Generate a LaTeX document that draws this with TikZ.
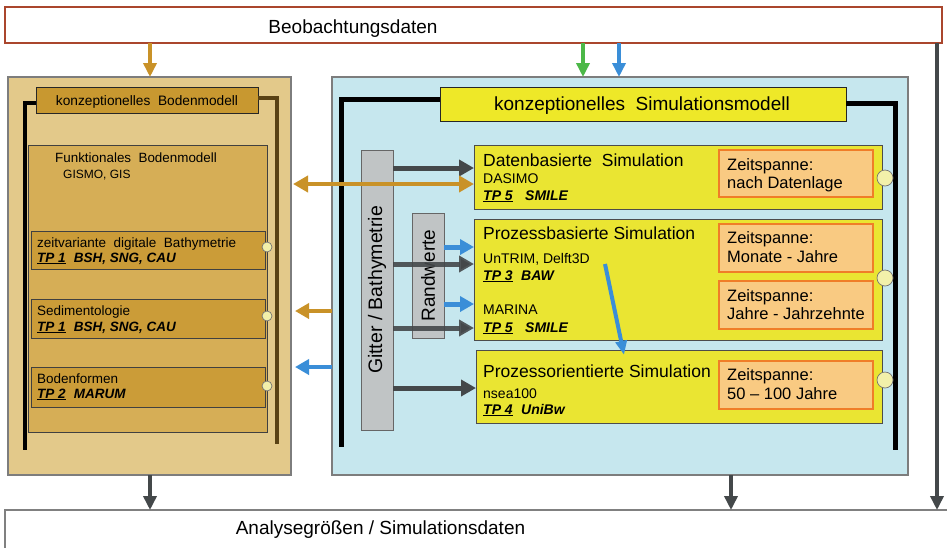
\documentclass[tikz,border=0pt]{standalone}
\usepackage{fontspec}
\setmainfont{Liberation Sans}
\usetikzlibrary{arrows.meta}
\definecolor{goldA}{RGB}{201,146,40}
\definecolor{tanbg}{RGB}{227,201,138}
\definecolor{goldhead}{RGB}{200,152,48}
\definecolor{goldfunc}{RGB}{214,174,86}
\definecolor{goldsub}{RGB}{203,156,56}
\definecolor{brownline}{RGB}{90,66,20}
\definecolor{bluebg}{RGB}{198,231,238}
\definecolor{yel}{RGB}{234,229,50}
\definecolor{yelhead}{RGB}{238,232,40}
\definecolor{zeitfill}{RGB}{249,202,130}
\definecolor{zeitline}{RGB}{240,125,40}
\definecolor{circfill}{RGB}{242,240,170}
\definecolor{grayfill}{RGB}{192,196,197}
\definecolor{darkarrow}{RGB}{68,72,74}
\definecolor{greenA}{RGB}{76,184,72}
\definecolor{blueA}{RGB}{58,142,216}
\definecolor{topline}{RGB}{170,70,45}
\newcommand\fsBig{\fontsize{19}{22}\selectfont}
\newcommand\fsTitle{\fontsize{17.5}{20}\selectfont}
\newcommand\fsSmall{\fontsize{14}{16}\selectfont}
\newcommand\fsZeit{\fontsize{16.5}{19}\selectfont}
\newcommand\fsLeft{\fontsize{13.5}{16}\selectfont}
\newcommand\fsTiny{\fontsize{12}{14}\selectfont}
\newcommand\tpl[2]{\underline{\textbf{\textit{#1}}}\hspace{0.6em}\textbf{\textit{#2}}}
\tikzset{
  rect/.style={rectangle, inner sep=0pt, outer sep=0pt},
  pan/.style={rect, draw={rgb,255:red,125;green,125;blue,125}, line width=1.2pt},
  lhd/.style={rect, fill=goldhead, draw=black!85, line width=0.8pt},
  funcb/.style={rect, fill=goldfunc, draw=black!75, line width=0.7pt},
  subb/.style={rect, fill=goldsub, draw=black!75, line width=0.8pt},
  simb/.style={rect, fill=yel, draw=black!70, line width=1pt},
  rhd/.style={rect, fill=yelhead, draw=black!85, line width=0.9pt},
  zeitb/.style={rect, fill=zeitfill, draw=zeitline, line width=1.2pt},
  gbox/.style={rect, fill=grayfill, draw=black!60, line width=0.9pt},
  circ/.style={circle, fill=circfill, draw=black!55, line width=0.7pt, inner sep=0pt},
  txt/.style={inner sep=0pt, anchor=base west},
  ctxt/.style={inner sep=0pt, anchor=base},
  darr/.style={draw=darkarrow, line width=5pt, -{Triangle[length=15pt,width=16pt]}},
  varr/.style={line width=4pt, -{Triangle[length=14pt,width=13pt]}},
  barr/.style={draw=blueA, line width=5pt, -{Triangle[length=14pt,width=15pt]}},
}
\begin{document}
\begin{tikzpicture}[x=1pt,y=-1pt]
\useasboundingbox (0,0) rectangle (947,547);
\fill[white] (0,0) rectangle (947,547);
% top and bottom boxes
\node[rect, draw=topline, line width=1.5pt, fill=white, minimum width=937pt, minimum height=36pt] (topbox) at (473.5,25) {};
\node[ctxt] (toptxt) at (353,33) {\fontsize{19}{22}\selectfont Beobachtungsdaten};
\node[rect, draw={rgb,255:red,128;green,128;blue,128}, line width=1.2pt, fill=white, minimum width=947pt, minimum height=42pt] (botbox) at (478.5,531) {};
\node[ctxt] (bottxt) at (380.5,534) {\fontsize{19}{22}\selectfont Analysegrößen / Simulationsdaten};
% coordinates for vertical connectors
\coordinate (cg) at (150,0);
\coordinate (cgr) at (583,0);
\coordinate (cbl) at (619,0);
\coordinate (cr) at (731,0);
\coordinate (cgl) at (937,0);
% panels
\node[pan, fill=tanbg, minimum width=283pt, minimum height=398pt] (lpanel) at (149.5,276) {};
\node[pan, fill=bluebg, minimum width=576pt, minimum height=398pt] (rpanel) at (620,276) {};
% left panel content
\node[funcb, minimum width=239pt, minimum height=287pt] (funcbox) at (147.5,288.5) {};
\node[lhd, minimum width=222pt, minimum height=26pt] (lhead) at (147,100) {};
\draw[black, line width=4pt] ([yshift=-3pt]lhead.west) -| (25,450);
\draw[brownline, line width=4pt] ([yshift=2pt]lhead.east) -| (277,444);
\node[ctxt] (lheadtxt) at (147,105) {\fontsize{13.7}{16}\selectfont konzeptionelles\ \ Bodenmodell};
\node[txt] (functxt) at (55,162) {\fontsize{13.4}{16}\selectfont Funktionales\ \ Bodenmodell};
\node[txt] (gismo) at (63,178) {\fsTiny GISMO, GIS};
\node[subb, minimum width=234pt, minimum height=38pt] (sub1) at (148,250) {};
\node[subb, minimum width=234pt, minimum height=39pt] (sub2) at (148,318.5) {};
\node[subb, minimum width=234pt, minimum height=40pt] (sub3) at (148,387) {};
\node[txt] (s1a) at (37,247) {\fsLeft zeitvariante\ \ digitale\ \ Bathymetrie};
\node[txt] (s1b) at (37,262) {\fsLeft\tpl{TP 1}{BSH, SNG, CAU}};
\node[txt] (s2a) at (37,315) {\fsLeft Sedimentologie};
\node[txt] (s2b) at (37,331) {\fsLeft\tpl{TP 1}{BSH, SNG, CAU}};
\node[txt] (s3a) at (37,383) {\fsLeft Bodenformen};
\node[txt] (s3b) at (37,398) {\fsLeft\tpl{TP 2}{MARUM}};
\node[circ, minimum size=10pt] (lc1) at (267,247) {};
\node[circ, minimum size=10pt] (lc2) at (267,316) {};
\node[circ, minimum size=10pt] (lc3) at (267,386) {};
% right panel content
\node[rhd, minimum width=406pt, minimum height=34pt] (rhead) at (643,104) {};
\draw[black, line width=5pt] ([yshift=5pt]rhead.west) -| (341,447);
\draw[black, line width=5pt] ([yshift=1pt]rhead.east) -| (895,450);
\node[ctxt] (rheadtxt) at (642,110) {\fsBig konzeptionelles\ \ Simulationsmodell};
\node[gbox, minimum width=32pt, minimum height=280pt] (gitter) at (377,290) {};
\node[rotate=90, inner sep=0pt] (gittertxt) at (377,290) {\fontsize{19.5}{22}\selectfont Gitter / Bathymetrie};
\node[gbox, minimum width=32pt, minimum height=125pt] (rand) at (428,275.5) {};
\node[rotate=90, inner sep=0pt] (randtxt) at (428,275.5) {\fontsize{19}{22}\selectfont Randwerte};
\node[simb, minimum width=408pt, minimum height=64pt] (dbox) at (678,177) {};
\node[simb, minimum width=408pt, minimum height=121pt] (pbox) at (678,279.5) {};
\node[simb, minimum width=406pt, minimum height=73pt] (obox) at (679,386.5) {};
\node[zeitb, minimum width=154pt, minimum height=47pt] (z1) at (796,173.5) {};
\node[zeitb, minimum width=154pt, minimum height=48pt] (z2) at (796,248) {};
\node[zeitb, minimum width=154pt, minimum height=48pt] (z3) at (796,305) {};
\node[zeitb, minimum width=154pt, minimum height=48pt] (z4) at (796,385) {};
\node[circ, minimum size=16pt] (rc1) at (885,178) {};
\node[circ, minimum size=16pt] (rc2) at (885,278) {};
\node[circ, minimum size=16pt] (rc3) at (885,380) {};
% right texts
\node[txt] (d1) at (483,166) {\fsTitle Datenbasierte\ \ Simulation};
\node[txt] (d2) at (483,183) {\fsSmall DASIMO};
\node[txt] (d3) at (483,200) {\fsSmall\tpl{TP 5}{\ SMILE}};
\node[txt] (p1) at (483,239) {\fsTitle Prozessbasierte Simulation};
\node[txt] (p2) at (483,263) {\fsSmall UnTRIM, Delft3D};
\node[txt] (p3) at (483,280) {\fsSmall\tpl{TP 3}{BAW}};
\node[txt] (p4) at (483,314) {\fsSmall MARINA};
\node[txt] (p5) at (483,332) {\fsSmall\tpl{TP 5}{\ SMILE}};
\node[txt] (o1) at (483,377) {\fsTitle Prozessorientierte Simulation};
\node[txt] (o2) at (483,398) {\fsSmall nsea100};
\node[txt] (o3) at (483,414) {\fsSmall\tpl{TP 4}{UniBw}};
\node[txt] (z1a) at (727,170) {\fsZeit Zeitspanne:};
\node[txt] (z1b) at (727,188) {\fsZeit nach Datenlage};
\node[txt] (z2a) at (727,243) {\fsZeit Zeitspanne:};
\node[txt] (z2b) at (727,262) {\fsZeit Monate - Jahre};
\node[txt] (z3a) at (727,301) {\fsZeit Zeitspanne:};
\node[txt] (z3b) at (727,319) {\fsZeit Jahre - Jahrzehnte};
\node[txt] (z4a) at (727,380) {\fsZeit Zeitspanne:};
\node[txt] (z4b) at (727,399) {\fsZeit 50 -- 100 Jahre};
% horizontal arrows inside right panel
\coordinate (y168) at (0,168);
\coordinate (y184) at (0,184);
\coordinate (y247) at (0,247);
\coordinate (y264) at (0,264);
\coordinate (y304) at (0,304);
\coordinate (y311) at (0,311);
\coordinate (y328) at (0,328);
\coordinate (y367) at (0,367);
\coordinate (y388) at (0,388);
\draw[darr] (gitter.east |- y168) -- (dbox.west |- y168);
\draw[darr, draw opacity=0.9] (gitter.east |- y264) -- (pbox.west |- y264);
\draw[darr, draw opacity=0.9] (gitter.east |- y328) -- (pbox.west |- y328);
\draw[darr] (gitter.east |- y388) -- (obox.west |- y388);
\draw[barr] (rand.east |- y247) -- (pbox.west |- y247);
\draw[barr] (rand.east |- y304) -- (pbox.west |- y304);
\draw[draw=goldA, line width=4.5pt, {Triangle[length=15pt,width=16pt]}-{Triangle[length=15pt,width=16pt]}] ([xshift=2pt]lpanel.east |- y184) -- (dbox.west |- y184);
\draw[draw=goldA, line width=4.5pt, -{Triangle[length=14pt,width=15pt]}] (rpanel.west |- y311) -- ([xshift=4pt]lpanel.east |- y311);
\draw[draw=blueA, line width=4.5pt, -{Triangle[length=14pt,width=15pt]}] (rpanel.west |- y367) -- ([xshift=4pt]lpanel.east |- y367);
% slanted blue arrow
\coordinate (bs) at (605,264);
\coordinate (bt) at (623,0);
\draw[draw=blueA, line width=4pt, shorten >=-5pt, -{Triangle[length=14pt,width=11pt]}] (bs) -- (obox.north -| bt);
% vertical arrows
\draw[varr, draw=goldA] (topbox.south -| cg) -- (lpanel.north -| cg);
\draw[varr, draw=greenA] (topbox.south -| cgr) -- (rpanel.north -| cgr);
\draw[varr, draw=blueA] (topbox.south -| cbl) -- (rpanel.north -| cbl);
\draw[varr, draw=darkarrow] (lpanel.south -| cg) -- (botbox.north -| cg);
\draw[varr, draw=darkarrow] (rpanel.south -| cr) -- (botbox.north -| cr);
\draw[varr, draw=darkarrow] (topbox.south -| cgl) -- (botbox.north -| cgl);
\end{tikzpicture}
\end{document}
